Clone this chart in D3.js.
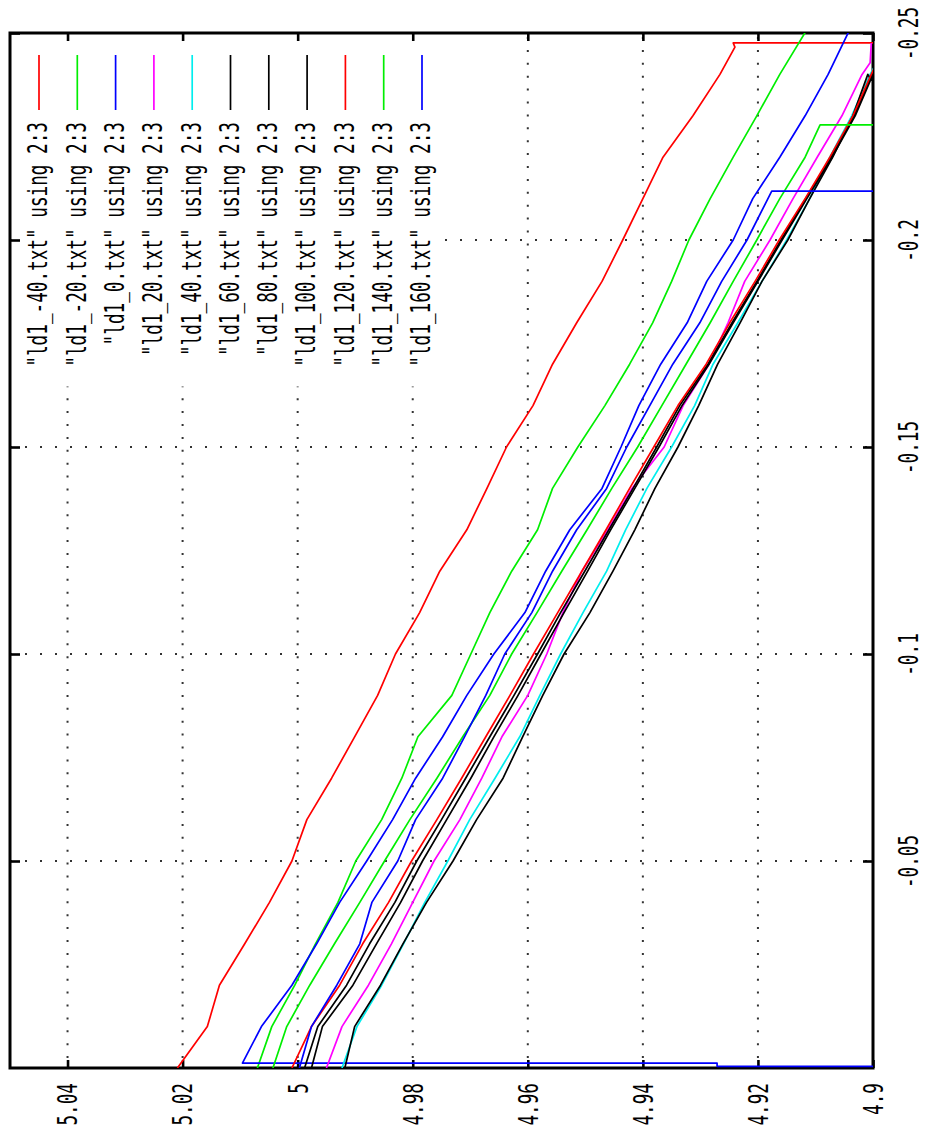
<!DOCTYPE html>
<html><head><meta charset="utf-8">
<script src="https://cdn.jsdelivr.net/npm/d3@7"></script>
<style>body{margin:0;background:#fff}svg{display:block}</style>
</head><body>
<svg id="c" width="925" height="1140"></svg>
<script>
// ---------- data ----------
const files = ["ld1_-40.txt","ld1_-20.txt","ld1_0.txt","ld1_20.txt","ld1_40.txt","ld1_60.txt","ld1_80.txt","ld1_100.txt","ld1_120.txt","ld1_140.txt","ld1_160.txt"];
const colors = ["#ff0000","#00ee00","#0000ff","#ff00ff","#00eeee","#000000","#000000","#000000","#ff0000","#00ee00","#0000ff"];
// column 2 (shared sample positions)
const col2 = [0,-0.01,-0.02,-0.03,-0.04,-0.05,-0.06,-0.07,-0.08,-0.09,-0.10,-0.11,-0.12,-0.13,-0.14,-0.15,-0.16,-0.17,-0.18,-0.19,-0.20,-0.21,-0.22,-0.23,-0.24];
// column 3 per file
const v_m40 = [5.0209,5.0157,5.0136,5.0092,5.0049,5.0010,4.9984,4.9941,4.9901,4.9861,4.9830,4.9788,4.9753,4.9706,4.9671,4.9637,4.9591,4.9557,4.9515,4.9471,4.9435,4.9400,4.9365,4.9313,4.9266];
const v_m20 = [5.0070,5.0045,5.0005,4.9969,4.9930,4.9899,4.9854,4.9819,4.9791,4.9732,4.9699,4.9666,4.9628,4.9583,4.9557,4.9513,4.9466,4.9423,4.9383,4.9350,4.9320,4.9283,4.9243,4.9202,4.9162];
const v_0   = [null,5.0063,5.0010,4.9967,4.9927,4.9880,4.9835,4.9795,4.9748,4.9706,4.9659,4.9605,4.9569,4.9527,4.9471,4.9438,4.9407,4.9369,4.9323,4.9289,4.9243,4.9209,4.9162,4.9118,4.9078];
const v_20  = [4.9950,4.9923,4.9877,4.9837,4.9800,4.9763,4.9718,4.9680,4.9645,4.9600,4.9567,4.9539,4.9506,4.9461,4.9419,4.9363,4.9330,4.9285,4.9252,4.9223,4.9179,4.9139,4.9097,4.9054,4.9019];
const v_40  = [4.9923,4.9897,4.9854,4.9816,4.9779,4.9739,4.9701,4.9657,4.9614,4.9579,4.9543,4.9504,4.9463,4.9430,4.9393,4.9350,4.9310,4.9278,4.9235,4.9193,4.9150,4.9110,4.9075,4.9037,4.9005];
const v_60  = [4.9918,4.9901,4.9856,4.9817,4.9776,4.9730,4.9689,4.9643,4.9609,4.9574,4.9537,4.9492,4.9452,4.9414,4.9379,4.9339,4.9303,4.9270,4.9231,4.9193,4.9148,4.9110,4.9070,4.9035,4.9009];
const v_80  = [4.9976,4.9957,4.9904,4.9863,4.9821,4.9783,4.9741,4.9699,4.9659,4.9617,4.9577,4.9537,4.9496,4.9456,4.9414,4.9372,4.9332,4.9285,4.9243,4.9200,4.9158,4.9115,4.9071,4.9031,4.9000];
const v_100 = [4.9988,4.9965,4.9915,4.9875,4.9831,4.9793,4.9750,4.9708,4.9666,4.9624,4.9583,4.9543,4.9501,4.9459,4.9417,4.9376,4.9336,4.9287,4.9245,4.9202,4.9160,4.9117,4.9073,4.9033,4.9002];
const v_120 = [5.0010,4.9976,4.9927,4.9887,4.9842,4.9802,4.9758,4.9715,4.9673,4.9631,4.9590,4.9548,4.9506,4.9464,4.9423,4.9381,4.9339,4.9290,4.9249,4.9205,4.9163,4.9118,4.9075,4.9035,4.9003];
const v_140 = [5.0043,5.0019,4.9979,4.9936,4.9892,4.9849,4.9805,4.9758,4.9713,4.9666,4.9628,4.9584,4.9541,4.9497,4.9454,4.9409,4.9367,4.9325,4.9283,4.9243,4.9202,4.9162,4.9118,null,null];
const v_160 = [4.9997,4.9976,4.9932,4.9892,4.9871,4.9826,4.9795,4.9748,4.9710,4.9673,4.9640,4.9593,4.9557,4.9515,4.9463,4.9428,4.9388,4.9348,4.9301,4.9263,4.9219,null,null,null,null];
// extra end points [col2, col3]
const head_0 = [[-0.0004,4.895],[-0.0004,4.9271],[-0.0012,4.9271],[-0.0012,5.0096]];
const tail_m40 = [[-0.2466,4.9240],[-0.2476,4.9243],[-0.2476,4.895]];
const tail_m20 = [[-0.2524,4.9108]];
const tail_0 = [[-0.2524,4.9035]];
const tail_20 = [[-0.2428,4.9005],[-0.2476,4.9003]];
const tail_40 = [[-0.2450,4.8985]];
const tail_60 = [[-0.2386,4.9003],[-0.2420,4.8990]];
const tail_80 = [[-0.2450,4.8985]];
const tail_100 = [[-0.2450,4.8985]];
const tail_120 = [[-0.2455,4.8985]];
const tail_140 = [[-0.2278,4.9092],[-0.2278,4.895]];
const tail_160 = [[-0.2118,4.9176],[-0.2118,4.895]];
// ticks
const vTicks = [4.9,4.92,4.94,4.96,4.98,5.0,5.02,5.04];
const vLabels = ["4.9","4.92","4.94","4.96","4.98","5","5.02","5.04"];
const xTicks = [-0.25,-0.2,-0.15,-0.1,-0.05];
const xLabels = ["-0.25","-0.2","-0.15","-0.1","-0.05"];

// ---------- layout ----------
const L=10, R=873, T=33, B=1068;
const FONT = "'DejaVu Sans Mono', 'Liberation Mono', monospace";
const vScale = d3.scaleLinear().domain([5.05,4.9]).range([L,R]);   // column 3 -> horizontal
const xScale = d3.scaleLinear().domain([-0.25,0]).range([T,B]);    // column 2 -> vertical
const svg = d3.select("#c");

// grid
const grid = svg.append("g").attr("stroke","#333").attr("stroke-width",2);
grid.selectAll("line.gv").data(vTicks.filter(v=>v>4.9001)).join("line").attr("class","gv")
  .attr("x1",d=>vScale(d)).attr("x2",d=>vScale(d)).attr("y1",T+4).attr("y2",B)
  .attr("stroke-dasharray","2 10.9");
grid.selectAll("line.gh").data(xTicks.filter(x=>x>-0.2499)).join("line").attr("class","gh")
  .attr("y1",d=>xScale(d)).attr("y2",d=>xScale(d)).attr("x1",L).attr("x2",R)
  .attr("stroke-dasharray","2 13");
// key area (opaque)
svg.append("rect").attr("x",L+1.5).attr("y",T+1.5).attr("width",427).attr("height",352).attr("fill","#fff");

// frame
svg.append("rect").attr("x",L).attr("y",T).attr("width",R-L).attr("height",B-T)
  .attr("fill","none").attr("stroke","#000").attr("stroke-width",3);

function styleAxis(g){
  g.attr("font-size",null).attr("font-family",null);
  g.select(".domain").remove();
  g.selectAll(".tick line").attr("stroke","#000").attr("stroke-width",2.6);
}
const axB = svg.append("g").attr("transform",`translate(0,${B})`)
  .call(d3.axisBottom(vScale).tickValues(vTicks).tickSize(-8).tickFormat((d,i)=>vLabels[i]));
styleAxis(axB);
axB.selectAll(".tick text").attr("y",0).attr("dy",null)
  .attr("transform","translate(0,15) rotate(-90) scale(0.68,1)")
  .attr("text-anchor","end").attr("dominant-baseline","central")
  .attr("fill","#000").style("font-family",FONT).style("font-size","26px");
const axT = svg.append("g").attr("transform",`translate(0,${T})`)
  .call(d3.axisTop(vScale).tickValues(vTicks).tickSize(-8).tickFormat(""));
styleAxis(axT);
const axR = svg.append("g").attr("transform",`translate(${R},0)`)
  .call(d3.axisRight(xScale).tickValues(xTicks).tickSize(-10).tickFormat((d,i)=>xLabels[i]));
styleAxis(axR);
axR.selectAll(".tick text").attr("x",0).attr("dy",null)
  .attr("transform","translate(36,0) rotate(-90) scale(0.68,1)")
  .attr("text-anchor","middle").attr("dominant-baseline","central")
  .attr("fill","#000").style("font-family",FONT).style("font-size","26px");
const axL = svg.append("g").attr("transform",`translate(${L},0)`)
  .call(d3.axisLeft(xScale).tickValues(xTicks).tickSize(-10).tickFormat(""));
styleAxis(axL);

// curves
svg.append("clipPath").attr("id","plotclip").append("rect")
  .attr("x",L).attr("y",T).attr("width",R-L).attr("height",B-T);
const vals  = [v_m40,v_m20,v_0,v_20,v_40,v_60,v_80,v_100,v_120,v_140,v_160];
const heads = [[],[],head_0,[],[],[],[],[],[],[],[]];
const tails = [tail_m40,tail_m20,tail_0,tail_20,tail_40,tail_60,tail_80,tail_100,tail_120,tail_140,tail_160];
const series = files.map((f,i)=>({
  name:f, color:colors[i],
  pts: heads[i].concat(col2.map((x,k)=>[x,vals[i][k]]).filter(p=>p[1]!=null)).concat(tails[i])
}));
const line = d3.line().x(d=>vScale(d[1])).y(d=>xScale(d[0]));
svg.append("g").attr("clip-path","url(#plotclip)")
  .selectAll("path").data(series).join("path")
  .attr("d",d=>line(d.pts)).attr("fill","none")
  .attr("stroke",d=>d.color).attr("stroke-width",1.7).attr("stroke-linejoin","round");

// key
const key = svg.append("g");
files.forEach((f,i)=>{
  const x = 39 + i*38.3;
  key.append("line").attr("x1",x).attr("x2",x).attr("y1",55).attr("y2",110)
    .attr("stroke",colors[i]).attr("stroke-width",1.7);
  key.append("text").attr("transform",`translate(${x-1},122) rotate(-90) scale(0.68,1)`)
    .attr("text-anchor","end").attr("dominant-baseline","central")
    .style("font-family",FONT).style("font-size","26px").attr("fill","#000")
    .text(`"${f}" using 2:3`);
});
</script>
</body></html>
